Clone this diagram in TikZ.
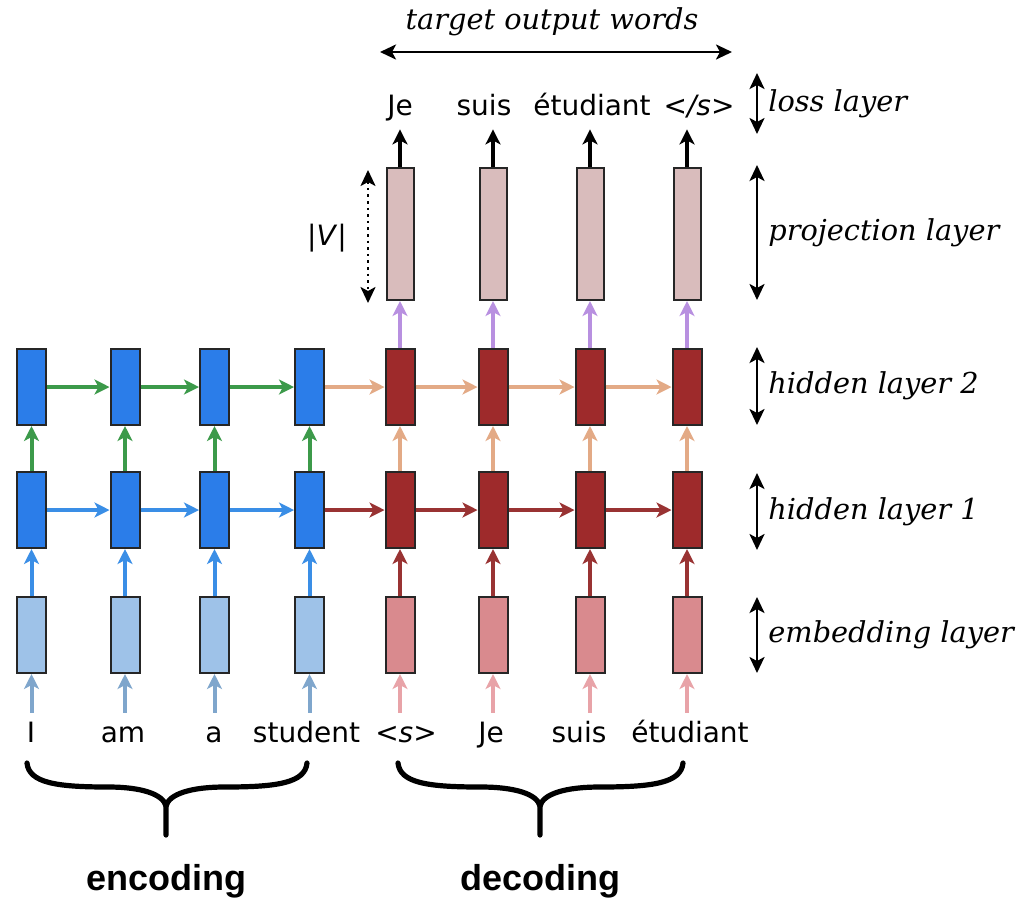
\documentclass[tikz,border=0pt]{standalone}
\usepackage{fontspec}
\setmainfont{DejaVu Sans}
\newfontfamily\lblfont{DejaVu Serif}
\newfontfamily\bigfont{Liberation Sans}
\usetikzlibrary{arrows.meta}
\definecolor{encembc}{HTML}{9EC2E8}
\definecolor{enchidc}{HTML}{2B7DE9}
\definecolor{decembc}{HTML}{D98A8E}
\definecolor{dechidc}{HTML}{9E2A2B}
\definecolor{projc}{HTML}{D9BCBC}
\definecolor{ainenc}{HTML}{7FA6CC}
\definecolor{ablue}{HTML}{3A8EE6}
\definecolor{agreen}{HTML}{3C9A4A}
\definecolor{aindec}{HTML}{E8A3A8}
\definecolor{ared}{HTML}{993333}
\definecolor{atan}{HTML}{E3AA86}
\definecolor{apurp}{HTML}{B890E0}
\begin{document}
\begin{tikzpicture}[x=0.5pt,y=-0.5pt,
  box/.style={draw=black!85, line width=1pt, minimum width=14.5pt, minimum height=38pt, inner sep=0},
  encemb/.style={box, fill=encembc},
  enchid/.style={box, fill=enchidc},
  decemb/.style={box, fill=decembc},
  dechid/.style={box, fill=dechidc},
  projbox/.style={box, fill=projc, minimum width=13.5pt, minimum height=66pt},
  arr/.style={-{Stealth[length=7.5pt,width=7.5pt,inset=2pt]}, line width=2pt},
  word/.style={font=\fontsize{14}{16}\selectfont, inner sep=0, inner ysep=4pt, text height=10.5pt, text depth=3pt, anchor=base},
  lbl/.style={font=\lblfont\itshape\fontsize{14.4}{16}\selectfont, anchor=west, inner sep=0},
  dimarr/.style={{Stealth[length=8pt,width=7.5pt,inset=2pt]}-{Stealth[length=8pt,width=7.5pt,inset=2pt]}, line width=1.3pt},
  brace/.style={line width=2.6pt, line cap=round},
  bigtxt/.style={font=\bigfont\bfseries\fontsize{18}{20}\selectfont, inner sep=0, anchor=base}
]
\useasboundingbox (0,0) rectangle (1021,901);
% encoder columns
\foreach \i/\x/\wx/\w in {1/31.5/31/I,2/125/123/am,3/214.5/214/a,4/309.5/306.5/student}{
  \node[encemb] (e\i) at (\x,635) {};
  \node[enchid] (ha\i) at (\x,510) {};
  \node[enchid] (hb\i) at (\x,387) {};
  \node[word] (w\i) at (\wx,742) {\w};
  \draw[arr, ainenc] (e\i |- w\i.north) -- (e\i);
  \draw[arr, ablue] (e\i) -- (ha\i);
  \draw[arr, agreen] (ha\i) -- (hb\i);
}
% decoder columns
\foreach \i/\x/\wx/\w/\ox/\o in {5/400/406/{<\textit{s}>}/400/Je,6/493/491/Je/484/suis,7/590/579/suis/592/étudiant,8/687/690/étudiant/699/{<\textit{/s}>}}{
  \node[decemb] (e\i) at (\x,635) {};
  \node[dechid] (ha\i) at (\x,510) {};
  \node[dechid] (hb\i) at (\x,387) {};
  \node[projbox] (p\i) at (\x,234) {};
  \node[word] (w\i) at (\wx,742) {\w};
  \node[word] (o\i) at (\ox,115) {\o};
  \draw[arr, aindec] (e\i |- w\i.north) -- (e\i);
  \draw[arr, ared] (e\i) -- (ha\i);
  \draw[arr, atan] (ha\i) -- (hb\i);
  \draw[arr, apurp] (hb\i) -- (p\i);
  \draw[arr, black] (p\i) -- (p\i |- o\i.south);
}
% horizontal recurrent arrows
\foreach \a/\b in {1/2,2/3,3/4}{
  \draw[arr, ablue] (ha\a) -- (ha\b);
  \draw[arr, agreen] (hb\a) -- (hb\b);
}
\foreach \a/\b in {4/5,5/6,6/7,7/8}{
  \draw[arr, ared] (ha\a) -- (ha\b);
  \draw[arr, atan] (hb\a) -- (hb\b);
}
% |V|
\coordinate (vt) at (368,170);
\coordinate (vb) at (368,303);
\draw[dimarr, dotted, line width=1.2pt] (vt) -- (vb);
\node[inner sep=0, font=\fontsize{14}{16}\selectfont] (vlab) at (327,238) {|\textit{V}|};
% target output words
\coordinate (tl) at (380,52);
\coordinate (tr) at (732,52);
\draw[dimarr] (tl) -- (tr);
\node[lbl, anchor=center] (tlab) at (552,22) {target output words};
% side layer labels
\foreach \n/\ya/\yb/\t in {loss/73/134/loss layer, proj/165/300/projection layer, hid2/347/425/hidden layer 2, hid1/473/550/hidden layer 1, emb/597/673/embedding layer}{
  \coordinate (\n a) at (757,\ya);
  \coordinate (\n b) at (757,\yb);
  \draw[dimarr] (\n a) -- (\n b);
  \node[lbl] (\n lab) at (768,{(\ya+\yb)/2}) {\t};
}
% braces
\foreach \l/\m/\r/\n/\t in {27/166/307/enc/encoding, 398/540/683/dec/decoding}{
  \coordinate (\n L) at (\l,763);
  \coordinate (\n R) at (\r,763);
  \coordinate (\n T) at (\m,835);
  \draw[brace] (\n L) .. controls (\l+2,783) and (\l+30,787) .. ({(\l+\m)/2+12},787)
     .. controls (\m-25,787) and (\m-3,794) .. (\m,806) -- (\n T);
  \draw[brace] (\n R) .. controls (\r-2,783) and (\r-30,787) .. ({(\r+\m)/2-12},787)
     .. controls (\m+25,787) and (\m+3,794) .. (\m,806);
  \node[bigtxt] (\n lab) at (\m,890) {\t};
}
\end{tikzpicture}
\end{document}
